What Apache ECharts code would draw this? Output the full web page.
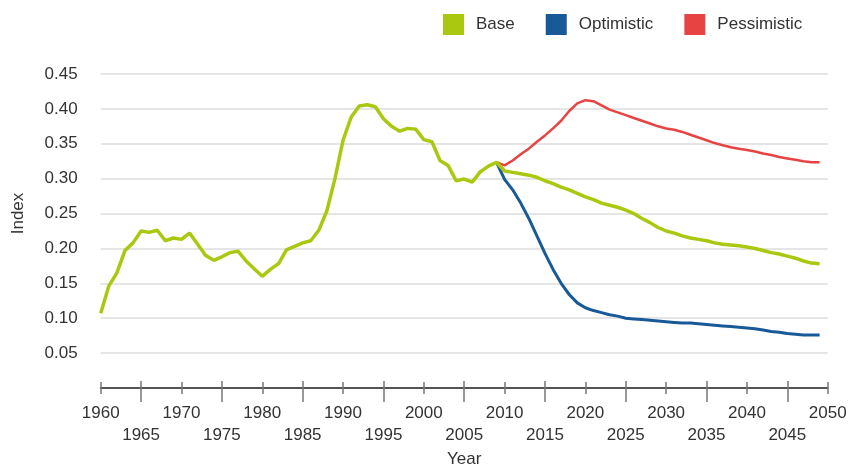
<!DOCTYPE html>
<html>
<head>
<meta charset="utf-8">
<script src="https://cdn.jsdelivr.net/npm/echarts@6/dist/echarts.min.js"></script>
<style>
html,body{margin:0;padding:0;background:#fff;}
#chart{width:848px;height:465px;}
</style>
</head>
<body>
<div id="chart"></div>
<script>
const years = [1960,1961,1962,1963,1964,1965,1966,1967,1968,1969,
  1970,1971,1972,1973,1974,1975,1976,1977,1978,1979,
  1980,1981,1982,1983,1984,1985,1986,1987,1988,1989,
  1990,1991,1992,1993,1994,1995,1996,1997,1998,1999,
  2000,2001,2002,2003,2004,2005,2006,2007,2008,2009,
  2010,2011,2012,2013,2014,2015,2016,2017,2018,2019,
  2020,2021,2022,2023,2024,2025,2026,2027,2028,2029,
  2030,2031,2032,2033,2034,2035,2036,2037,2038,2039,
  2040,2041,2042,2043,2044,2045,2046,2047,2048,2049];

const baseValues = [0.107,0.146,0.165,0.197,0.208,0.225,0.223,0.226,0.211,0.215,
  0.213,0.222,0.206,0.190,0.183,0.188,0.194,0.196,0.182,0.171,
  0.160,0.170,0.178,0.198,0.203,0.208,0.211,0.226,0.254,0.300,
  0.355,0.388,0.404,0.406,0.403,0.386,0.375,0.368,0.372,0.371,
  0.356,0.353,0.326,0.319,0.297,0.2995,0.295,0.310,0.318,0.3235,
  0.311,0.309,0.307,0.305,0.302,0.297,0.293,0.288,0.284,0.279,
  0.274,0.270,0.265,0.262,0.259,0.255,0.250,0.243,0.237,0.230,
  0.225,0.222,0.218,0.215,0.213,0.211,0.208,0.206,0.205,0.204,
  0.202,0.200,0.197,0.194,0.192,0.189,0.186,0.182,0.179,0.178];

const projYears = [2009,
  2010,2011,2012,2013,2014,2015,2016,2017,2018,2019,
  2020,2021,2022,2023,2024,2025,2026,2027,2028,2029,
  2030,2031,2032,2033,2034,2035,2036,2037,2038,2039,
  2040,2041,2042,2043,2044,2045,2046,2047,2048,2049];

const optimisticValues = [0.3235,
  0.299,0.284,0.265,0.243,0.218,0.193,0.170,0.150,0.134,0.122,
  0.115,0.111,0.108,0.105,0.103,0.100,0.099,0.098,0.097,0.096,
  0.095,0.094,0.093,0.093,0.092,0.091,0.090,0.089,0.088,0.087,
  0.086,0.085,0.083,0.081,0.080,0.078,0.077,0.076,0.076,0.076];

const pessimisticValues = [0.3235,
  0.319,0.326,0.335,0.343,0.353,0.362,0.372,0.383,0.397,0.408,
  0.4125,0.411,0.405,0.399,0.395,0.391,0.387,0.383,0.379,0.375,
  0.372,0.370,0.367,0.363,0.359,0.355,0.351,0.348,0.345,0.343,
  0.341,0.339,0.336,0.334,0.331,0.329,0.327,0.325,0.3235,0.3235];

const seriesNames = ['Base','Optimistic','Pessimistic'];
const colors = ['#aac80f','#185a97','#e84343'];

const FONT = '"Liberation Sans", Arial, Helvetica, sans-serif';

function pairs(xs, ys){ return xs.map((x,i)=>[x, ys[i]]); }

const chart = echarts.init(document.getElementById('chart'), null, {renderer:'canvas'});

const tickAxisBase = {
  type:'value', min:1960, max:2050, interval:10, position:'bottom',
  axisLine:{show:false}, axisLabel:{show:false}, splitLine:{show:false}
};

chart.setOption({
  animation:false,
  backgroundColor:'#ffffff',
  color: colors,
  grid:{left:100.7, right:20.3, top:74, bottom:77, containLabel:false, outerBoundsMode:'none'},
  legend:{
    data: seriesNames,
    top:14, left:443, padding:0,
    itemWidth:21, itemHeight:21, itemGap:31,
    icon:'rect',
    textStyle:{fontSize:17, color:'#333', fontFamily:FONT, padding:[0,0,0,7]}
  },
  xAxis:[
    {
      type:'value', min:1960, max:2050, interval:5, position:'bottom',
      axisLine:{show:true, onZero:false, lineStyle:{color:'#555', width:2}},
      axisTick:{show:false},
      splitLine:{show:false},
      axisLabel:{
        fontSize:17, color:'#333', fontFamily:FONT, lineHeight:22, margin:14,
        formatter: v => (v % 10 === 0 ? String(v) : '\n' + v)
      },
      name:'Year', nameLocation:'middle', nameGap:61,
      nameTextStyle:{fontSize:17, color:'#333', fontFamily:FONT}
    },
    Object.assign({}, tickAxisBase, {
      axisTick:{show:true, inside:false, length:6, lineStyle:{color:'#777', width:1.5}},
      minorTick:{show:true, splitNumber:2, length:14, lineStyle:{color:'#777', width:1.5}}
    }),
    Object.assign({}, tickAxisBase, {
      axisTick:{show:true, inside:true, length:6, lineStyle:{color:'#777', width:1.5}},
      minorTick:{show:true, splitNumber:2, length:7, lineStyle:{color:'#777', width:1.5}}
    })
  ],
  yAxis:{
    type:'value', min:0, max:0.45, interval:0.05,
    axisLine:{show:false}, axisTick:{show:false},
    splitLine:{show:true, lineStyle:{color:'#dddddd', width:1.5}},
    axisLabel:{
      fontSize:17, color:'#333', fontFamily:FONT, margin:23,
      formatter: v => (v === 0 ? '' : v.toFixed(2))
    },
    name:'Index', nameLocation:'middle', nameGap:74,
    nameTextStyle:{fontSize:17, color:'#333', fontFamily:FONT, padding:[0,0,0,35]}
  },
  series:[
    {
      name:'Pessimistic', type:'line', xAxisIndex:0, z:2,
      data: pairs(projYears, pessimisticValues),
      showSymbol:false, symbol:'none',
      lineStyle:{color:colors[2], width:2.5},
      itemStyle:{color:colors[2]}
    },
    {
      name:'Optimistic', type:'line', xAxisIndex:0, z:3,
      data: pairs(projYears, optimisticValues),
      showSymbol:false, symbol:'none',
      lineStyle:{color:colors[1], width:3},
      itemStyle:{color:colors[1]}
    },
    {
      name:'Base', type:'line', xAxisIndex:0, z:4,
      data: pairs(years, baseValues),
      showSymbol:false, symbol:'none',
      lineStyle:{color:colors[0], width:3.5},
      itemStyle:{color:colors[0]}
    }
  ]
});
</script>
</body>
</html>
